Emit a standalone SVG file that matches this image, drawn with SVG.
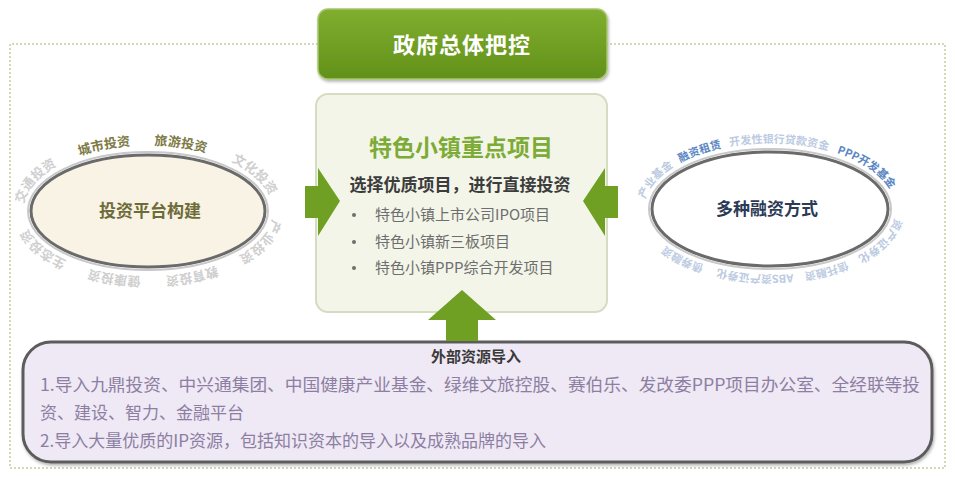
<svg xmlns="http://www.w3.org/2000/svg" width="955" height="477" viewBox="0 0 955 477">
<style>
text{font-family:"Noto Sans CJK SC","Noto Sans",sans-serif}
.arc{font-size:13px;font-weight:bold}
.arcs{font-size:11px;font-weight:bold}
.grey{fill:#cfcfcf}
.olive{fill:#7d7a45}
.lblue{fill:#bccbe2}
.blue{fill:#5b86c4}
.bul{font-size:15px;fill:#6e6e6e}
.ext{font-size:17px;fill:#8c7fa2}
.arrow{fill:#6fa024}
</style>
<defs>
<linearGradient id="gTop" x1="0" y1="0" x2="0" y2="1">
<stop offset="0" stop-color="#80ae2f"/><stop offset="1" stop-color="#629119"/>
</linearGradient>
<filter id="sh" x="-10%" y="-10%" width="120%" height="130%">
<feDropShadow dx="1" dy="2" stdDeviation="1.5" flood-color="#000" flood-opacity="0.3"/>
</filter>
<path id="arcL" d="M23,211 A125,66 0 1 1 273,211 A125,66 0 1 1 23,211"/>
<path id="arcR" d="M644,209 A126,66 0 1 1 896,209 A126,66 0 1 1 644,209"/>
</defs>
<rect width="955" height="477" fill="#ffffff"/>

<g id="frame">
<path d="M318,44 H10 V468 H945 V44 H607" fill="none" stroke="#c9cb9c" stroke-width="1.5" stroke-dasharray="2,2"/>
</g>

<g id="gov">
<rect x="318" y="9" width="289" height="70" rx="10" fill="url(#gTop)" stroke="#a7c56d" stroke-width="1.5" filter="url(#sh)"/>
<text x="462" y="53" text-anchor="middle" font-size="22" font-weight="bold" fill="#ffffff" letter-spacing="1">政府总体把控</text>
</g>

<g id="center">
<rect x="316" y="94" width="291" height="218" rx="12" fill="#f3f5e9" stroke="#d6dcc2" stroke-width="2"/>
<text x="461" y="156" text-anchor="middle" font-size="23" font-weight="bold" fill="#7cab36">特色小镇重点项目</text>
<text x="460" y="191" text-anchor="middle" font-size="17" font-weight="bold" fill="#3c3c3c">选择优质项目，进行直接投资</text>
<circle cx="354" cy="215" r="2" fill="#6e6e6e"/>
<circle cx="354" cy="242" r="2" fill="#6e6e6e"/>
<circle cx="354" cy="268" r="2" fill="#6e6e6e"/>
<text class="bul" x="375" y="220">特色小镇上市公司IPO项目</text>
<text class="bul" x="375" y="247">特色小镇新三板项目</text>
<text class="bul" x="375" y="273">特色小镇PPP综合开发项目</text>
</g>

<g id="invest">
<ellipse cx="148" cy="211" rx="117" ry="56" fill="#f8f3e4" stroke="#6a6a6a" stroke-width="3"/>
<ellipse cx="148" cy="211" rx="120" ry="59" fill="none" stroke="#c8c8c8" stroke-width="2"/>
<text x="150" y="217" text-anchor="middle" font-size="17" font-weight="bold" fill="#6e6b3a">投资平台构建</text>
<text class="arc"><textPath href="#arcL" startOffset="7" class="grey">交通投资</textPath></text>
<text class="arc"><textPath href="#arcL" startOffset="84" class="olive">城市投资</textPath></text>
<text class="arc"><textPath href="#arcL" startOffset="160" class="olive">旅游投资</textPath></text>
<text class="arc"><textPath href="#arcL" startOffset="239" class="grey">文化投资</textPath></text>
<text class="arc"><textPath href="#arcL" startOffset="315" class="grey">产业投资</textPath></text>
<text class="arc"><textPath href="#arcL" startOffset="391" class="grey">教育投资</textPath></text>
<text class="arc"><textPath href="#arcL" startOffset="468" class="grey">健康投资</textPath></text>
<text class="arc"><textPath href="#arcL" startOffset="544" class="grey">生态投资</textPath></text>
</g>

<g id="finance">
<ellipse cx="770" cy="209" rx="118" ry="57" fill="#ffffff" stroke="#6a6a6a" stroke-width="3"/>
<ellipse cx="770" cy="209" rx="121" ry="60" fill="none" stroke="#c8c8c8" stroke-width="2"/>
<text x="767" y="215" text-anchor="middle" font-size="17" font-weight="bold" fill="#2b3a55">多种融资方式</text>
<text class="arcs"><textPath href="#arcR" startOffset="10" class="lblue">产业基金</textPath></text>
<text class="arcs"><textPath href="#arcR" startOffset="62" class="blue">融资租赁</textPath></text>
<text class="arcs"><textPath href="#arcR" startOffset="114" class="lblue">开发性银行贷款资金</textPath></text>
<text class="arcs"><textPath href="#arcR" startOffset="222" class="blue">PPP开发基金</textPath></text>
<text class="arcs"><textPath href="#arcR" startOffset="318" class="lblue">资产证券化</textPath></text>
<text class="arcs"><textPath href="#arcR" startOffset="385" class="lblue">信托融资</textPath></text>
<text class="arcs"><textPath href="#arcR" startOffset="440" class="lblue">ABS资产证券化</textPath></text>
<text class="arcs"><textPath href="#arcR" startOffset="530" class="lblue">债券融资</textPath></text>
</g>

<g id="external">
<rect x="23" y="342" width="909" height="120" rx="28" fill="#efe8f5" stroke="#5c5c5c" stroke-width="3" filter="url(#sh)"/>
<text x="476" y="362" text-anchor="middle" font-size="15" font-weight="bold" fill="#3a3a3a">外部资源导入</text>
<text class="ext" x="40" y="391" textLength="880" lengthAdjust="spacingAndGlyphs">1.导入九鼎投资、中兴通集团、中国健康产业基金、绿维文旅控股、赛伯乐、发改委PPP项目办公室、全经联等投</text>
<text class="ext" x="40" y="419">资、建设、智力、金融平台</text>
<text class="ext" x="40" y="447">2.导入大量优质的IP资源，包括知识资本的导入以及成熟品牌的导入</text>
</g>

<g id="connectors">
<polygon class="arrow" points="305,186 318,186 318,168 340,201 318,236 318,218 305,218"/>
<polygon class="arrow" points="618,186 605,186 605,168 583,201 605,236 605,218 618,218"/>
<polygon class="arrow" points="446,341 446,320 428,320 462,290 496,320 478,320 478,341"/>
</g>
</svg>
